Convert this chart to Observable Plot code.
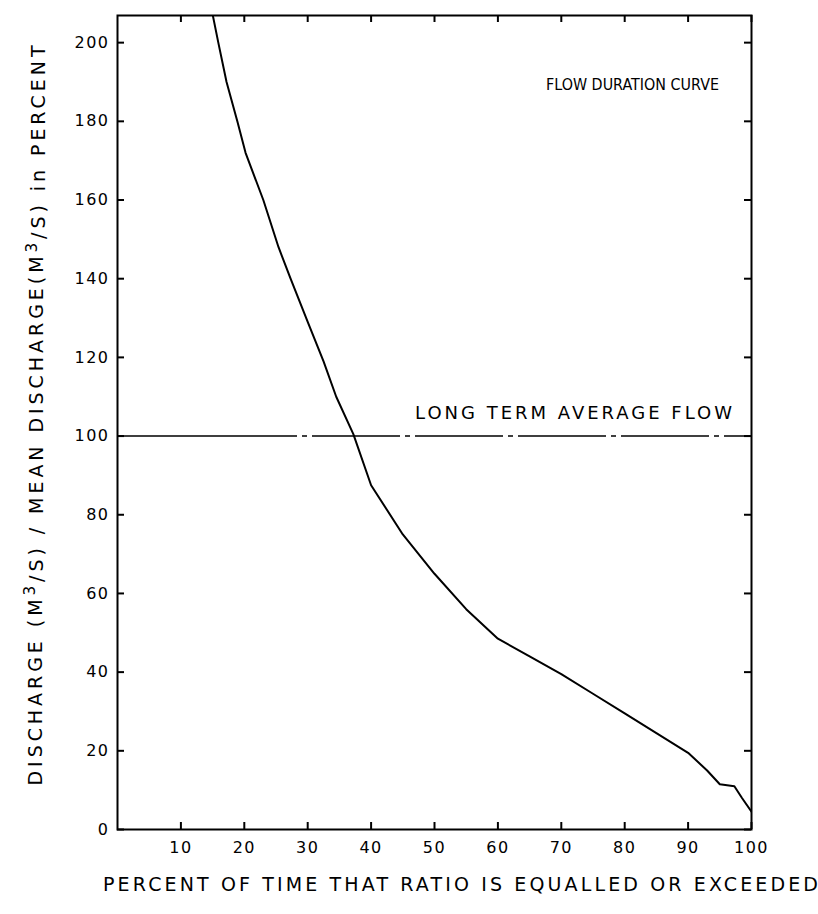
<!DOCTYPE html>
<html>
<head>
<meta charset="utf-8">
<script src="https://cdn.jsdelivr.net/npm/d3@7"></script>
<script src="https://cdn.jsdelivr.net/npm/@observablehq/plot@0.6"></script>
<style>
  body { margin: 0; background: #fff; }
</style>
</head>
<body>
<div id="chart"></div>
<script>
// Flow duration curve: percent of time a discharge ratio is equalled or exceeded
const percentTime = [14.9, 15.9, 17.2, 18.9, 20.2, 23.0, 25.4, 27.3, 30.0, 32.5, 34.5, 37.2, 40.0, 45.0, 50.0, 55.0, 60.0, 65.0, 70.0, 75.0, 80.0, 85.0, 90.0, 93.0, 95.0, 97.3, 98.5, 100.0];
const dischargeRatio = [208, 200, 190, 180, 172, 160, 148, 140, 129, 119, 110, 100.5, 87.5, 75.0, 65.0, 56.0, 48.5, 44.0, 39.5, 34.5, 29.5, 24.5, 19.5, 15.0, 11.5, 11.0, 8.0, 4.5];

const xTicks = [10, 20, 30, 40, 50, 60, 70, 80, 90, 100];
const yTicks = [0, 20, 40, 60, 80, 100, 120, 140, 160, 180, 200];
const averageFlow = 100;

const titleText = "FLOW DURATION CURVE";
const averageText = "LONG TERM AVERAGE FLOW";
const xLabel = "PERCENT OF TIME THAT RATIO IS EQUALLED OR EXCEEDED";
const yLabel = "DISCHARGE (M³/S) / MEAN DISCHARGE(M³/S) in PERCENT";

const W = 818, H = 914;
const margin = {top: 15, right: 67, bottom: 85, left: 117};
const innerH = H - margin.top - margin.bottom;
const innerW = W - margin.left - margin.right;
const tickLen = 7;
const font = "DejaVu Sans";

const curve = percentTime.map((x, i) => ({x, y: dischargeRatio[i]}));

const chart = Plot.plot({
  width: W,
  height: H,
  marginTop: margin.top,
  marginRight: margin.right,
  marginBottom: margin.bottom,
  marginLeft: margin.left,
  style: {fontFamily: font, background: "#fff", color: "#000", overflow: "visible"},
  x: {domain: [0, 100]},
  y: {domain: [0, 206.9]},
  marks: [
    Plot.axisX(xTicks, {tickSize: 0, tickPadding: 12, label: null, fontSize: 16}),
    Plot.axisY(yTicks, {tickSize: 0, tickPadding: 8, label: null, fontSize: 16}),
    // inward ticks on all four sides of the frame
    Plot.tickX(xTicks, {x: d => d, insetTop: innerH - tickLen, strokeWidth: 2}),
    Plot.tickX(xTicks, {x: d => d, insetBottom: innerH - tickLen, strokeWidth: 2}),
    Plot.tickY(yTicks, {y: d => d, insetRight: innerW - tickLen, strokeWidth: 2}),
    Plot.tickY(yTicks, {y: d => d, insetLeft: innerW - tickLen, strokeWidth: 2}),
    // long-term average: long dash / short dash, solid near the left axis
    Plot.ruleY([averageFlow], {strokeWidth: 1.6, strokeDasharray: "180,5,5,5,88,5,5,5,88,5,5,5,88,5,5,5,88,5,5,5,88,5,5,5"}),
    Plot.line(curve, {x: "x", y: "y", strokeWidth: 2, clip: true}),
    Plot.frame({strokeWidth: 2}),
    Plot.text([titleText], {text: d => d, frameAnchor: "top-right", dx: -119, dy: 63, textAnchor: "middle", fontSize: 16}),
    Plot.text([averageText], {text: d => d, y: () => averageFlow, frameAnchor: "right", dx: -178, dy: -23, textAnchor: "middle", fontSize: 18}),
    Plot.text([xLabel], {text: d => d, frameAnchor: "bottom", dx: 26, dy: 61, textAnchor: "middle", fontSize: 19}),
    Plot.text([yLabel], {text: d => d, frameAnchor: "left", rotate: -90, dx: -82, dy: -7, textAnchor: "middle", fontSize: 19})
  ]
});

document.getElementById("chart").append(chart);

// letter spacing for the hand-lettered look
const svg = d3.select(chart);
svg.selectAll("g[aria-label='x-axis tick label'] text, g[aria-label='y-axis tick label'] text")
  .attr("letter-spacing", "1.5px");

const fitText = (content, length, adjust = "spacing") => {
  svg.selectAll("text").filter(function () { return this.textContent === content; })
    .attr("textLength", length)
    .attr("lengthAdjust", adjust);
};
fitText(titleText, 173, "spacingAndGlyphs");
fitText(averageText, 317);
fitText(xLabel, 715);

// y label: raise the cubed exponent
svg.selectAll("text").filter(function () { return this.textContent === yLabel; })
  .each(function () {
    const t = d3.select(this);
    t.text(null);
    const parts = yLabel.split("³");
    parts.forEach((p, i) => {
      t.append("tspan").attr("dy", i === 0 ? null : "0.42em").text(p);
      if (i < parts.length - 1) {
        t.append("tspan").attr("dy", "-0.42em").attr("font-size", "0.8em").text("3");
      }
    });
    t.attr("textLength", 740).attr("lengthAdjust", "spacing");
  });
</script>
</body>
</html>
